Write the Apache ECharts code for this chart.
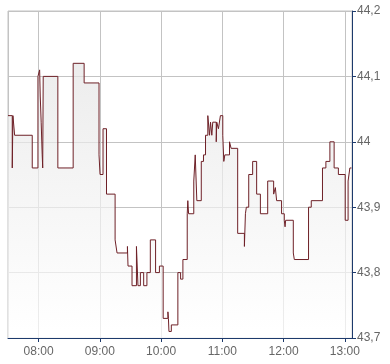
<!DOCTYPE html>
<html>
<head>
<meta charset="utf-8">
<script src="https://cdn.jsdelivr.net/npm/echarts@6/dist/echarts.min.js"></script>
<style>html,body{margin:0;padding:0;background:#fff}#c{width:390px;height:364px}</style>
</head>
<body>
<div id="c"></div>
<script>
// Step-change times (value holds from this time until the next one)
const times = ["07:30:00","07:34:10","07:34:50","07:36:30","07:53:45","07:59:20","08:01:00","08:01:35","08:02:30","08:03:30",
"08:04:00","08:04:30","08:18:50","08:33:50","08:44:35","08:59:10","09:00:10","09:03:05","09:06:30","09:14:55",
"09:16:50","09:27:00","09:27:35","09:31:30","09:35:50","09:37:20","09:39:40","09:42:55","09:46:05","09:49:25",
"09:54:35","09:58:20","10:02:00","10:06:40","10:07:10","10:07:40","10:10:00","10:16:25","10:19:05","10:21:20",
"10:25:35","10:26:10","10:26:55","10:32:00","10:33:25","10:35:00","10:39:20","10:41:30","10:43:30","10:45:45",
"10:47:25","10:48:25","10:49:40","10:50:35","10:54:00","10:54:30","10:56:10","10:58:05","11:00:25","11:01:25",
"11:02:25","11:07:00","11:08:35","11:15:00","11:21:35","11:22:35","11:23:30","11:25:50","11:29:40","11:33:35",
"11:37:15","11:44:25","11:50:15","11:51:55","11:53:10","11:58:00","12:00:40","12:01:25","12:02:00","12:09:30",
"12:10:30","12:24:25","12:27:05","12:38:05","12:41:25","12:45:20","12:49:30","12:53:40","13:00:20","13:03:10",
"13:04:55","13:06:30"];
const prices = [44.04,43.96,44.04,44.01,43.96,44.10,44.11,44.07,44.03,43.98,
43.96,44.10,43.96,44.12,44.09,43.98,43.95,44.02,43.92,43.85,
43.83,43.84,43.81,43.78,43.84,43.78,43.80,43.78,43.80,43.85,
43.80,43.81,43.73,43.74,43.73,43.71,43.72,43.80,43.79,43.82,
43.89,43.91,43.89,43.94,43.98,43.91,43.97,43.98,44.01,44.04,
44.01,44.03,44.01,44.03,44.00,44.03,44.02,44.04,44.01,43.97,
43.98,44.00,43.99,43.86,43.84,43.89,43.90,43.95,43.97,43.92,
43.89,43.94,43.92,43.93,43.91,43.89,43.88,43.87,43.88,43.83,
43.82,43.90,43.91,43.96,43.97,44.00,43.96,43.95,43.88,43.94,
43.96,43.96];
const axisStart = "07:30:00";
const axisEnd = "13:07:00";
const yTicks = [43.7, 43.8, 43.9, 44.0, 44.1, 44.2];

function toTs(s){
  const p = s.split(':').map(Number);
  return new Date(2024, 0, 2, p[0], p[1], p[2] || 0).getTime();
}
function pad(n){ return (n < 10 ? '0' : '') + n; }

const data = times.map((t, i) => [toTs(t), prices[i]]);
const navy = '#1d3a6c';
const grid = '#c3c3c3';

const chart = echarts.init(document.getElementById('c'), null, {renderer: 'canvas'});
chart.setOption({
  animation: false,
  grid: {left: 8, right: 38, top: 11, bottom: 26, show: true, borderColor: grid, borderWidth: 1, backgroundColor: 'transparent'},
  xAxis: {
    type: 'time',
    min: toTs(axisStart),
    max: toTs(axisEnd),
    minInterval: 3600 * 1000,
    maxInterval: 3600 * 1000,
    axisLine: {show: true, lineStyle: {color: navy, width: 1}},
    axisTick: {show: true, length: 4, lineStyle: {color: navy}},
    axisLabel: {
      color: '#666', fontSize: 12, fontFamily: 'Liberation Sans, Arial, sans-serif', margin: 8,
      showMinLabel: false, showMaxLabel: false,
      formatter: function (v) { const d = new Date(v); return pad(d.getHours()) + ':' + pad(d.getMinutes()); }
    },
    splitLine: {show: true, lineStyle: {color: grid, width: 1}}
  },
  yAxis: {
    type: 'value',
    position: 'right',
    min: yTicks[0],
    max: yTicks[yTicks.length - 1],
    interval: 0.1,
    axisLine: {show: true, onZero: false, lineStyle: {color: navy, width: 1}},
    axisTick: {show: true, length: 4, lineStyle: {color: navy}},
    axisLabel: {
      color: '#666', fontSize: 12, fontFamily: 'Liberation Sans, Arial, sans-serif', margin: 5,
      formatter: function (v) { return String(parseFloat(v.toFixed(1))).replace('.', ','); }
    },
    splitLine: {show: true, lineStyle: {color: grid, width: 1}}
  },
  series: [{
    type: 'line',
    step: 'end',
    data: data,
    symbol: 'none',
    lineStyle: {color: '#6e2027', width: 1},
    areaStyle: {
      color: new echarts.graphic.LinearGradient(0, 0, 0, 1, [
        {offset: 0, color: '#e4e4e4'},
        {offset: 1, color: '#ffffff'}
      ])
    }
  }]
});
</script>
</body>
</html>
